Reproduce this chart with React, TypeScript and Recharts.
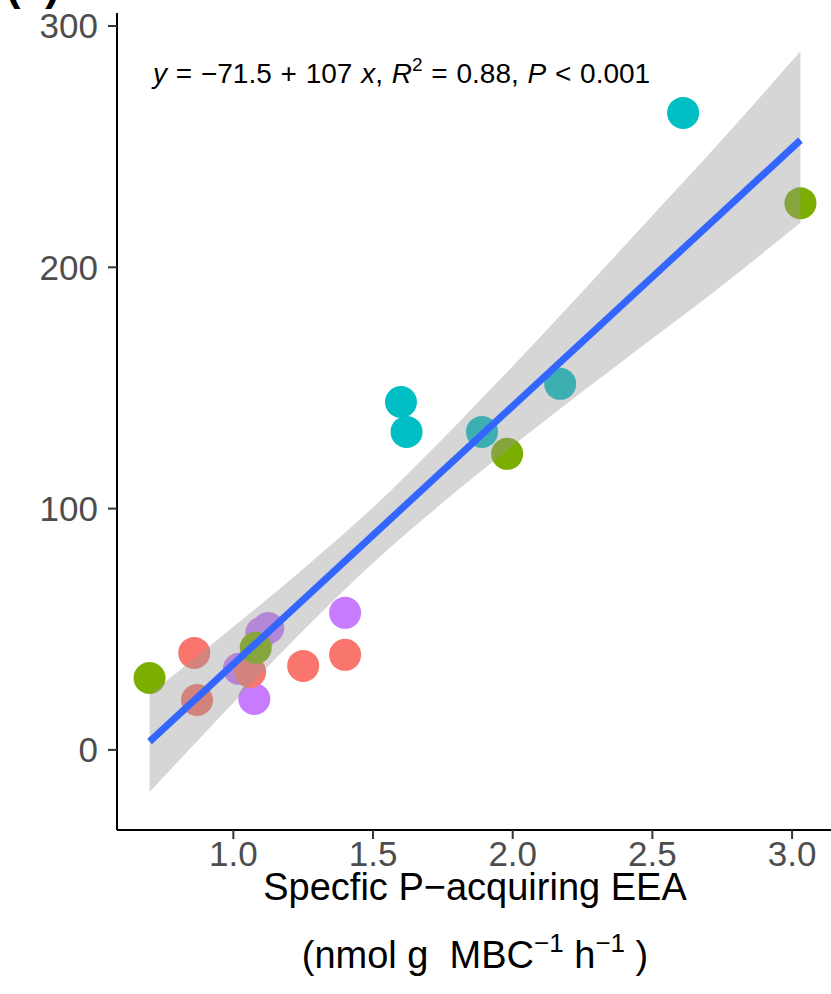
import React from 'react';
import { ComposedChart, Scatter, Area, Line, XAxis, YAxis } from 'recharts';

const FONT = '"Liberation Sans", Arial, Helvetica, sans-serif';

// site groups (ggplot default hues)
const redX = [0.86, 0.87, 1.06, 1.25, 1.4];
const redY = [40.2, 20.7, 32.3, 34.8, 39.4];
const greenX = [0.7, 1.08, 1.98, 3.03];
const greenY = [29.8, 42.3, 122.7, 226.6];
const cyanX = [2.61, 1.6, 1.62, 1.89, 2.17];
const cyanY = [264, 144.2, 131.8, 131.8, 151.7];
const purpleX = [1.1, 1.125, 1.02, 1.075, 1.4];
const purpleY = [48.5, 50.5, 33.6, 21.1, 56.8];

// linear fit, as given in the equation label
const INTERCEPT = -71.5;
const SLOPE = 107;
const fitX = [0.7, 3.03];

// 95% confidence ribbon
const bandX = [0.7, 1.0, 1.25, 1.5, 1.75, 2.0, 2.25, 2.5, 2.75, 3.03];
const bandLow = [-17.5, 19.5, 49.5, 77.5, 102.5, 126, 148.5, 170.5, 192.5, 218.5];
const bandHigh = [23, 51, 75, 100.5, 129, 159, 190, 221.5, 253, 289.5];

const xTicks = [1.0, 1.5, 2.0, 2.5, 3.0];
const yTicks = [0, 100, 200, 300];

const toPoints = (xs: number[], ys: number[]) => xs.map((x, i) => ({ x, y: ys[i] }));

const dot = (color: string) => (props: any) =>
  <circle cx={props.cx} cy={props.cy} r={16} fill={color} />;

const fitData = fitX.map((x) => ({ x, fit: INTERCEPT + SLOPE * x }));
const bandData = bandX.map((x, i) => ({ x, band: [bandLow[i], bandHigh[i]] }));

export default function App() {
  return (
    <div style={{ position: 'absolute', left: 0, top: 0, width: 831, height: 994, overflow: 'hidden', background: '#fff' }}>
      <ComposedChart width={850} height={994} margin={{ top: 13, right: 17, bottom: 0, left: 0 }}>
        <XAxis
          type="number"
          dataKey="x"
          domain={[0.5835, 3.1465]}
          ticks={xTicks}
          allowDataOverflow
          tickFormatter={(v: number) => v.toFixed(1)}
          height={164}
          tickSize={9}
          tickMargin={2}
          axisLine={{ stroke: '#000', strokeWidth: 2 }}
          tickLine={{ stroke: '#333', strokeWidth: 2 }}
          tick={{ fill: '#4D4D4D', fontSize: 35, fontFamily: FONT }}
        />
        <YAxis
          type="number"
          domain={[-33.2, 305.4]}
          ticks={yTicks}
          allowDataOverflow
          width={117}
          tickSize={9}
          tickMargin={10}
          axisLine={{ stroke: '#000', strokeWidth: 2 }}
          tickLine={{ stroke: '#333', strokeWidth: 2 }}
          tick={{ fill: '#4D4D4D', fontSize: 35, fontFamily: FONT }}
        />
        <Scatter data={toPoints(purpleX, purpleY)} dataKey="y" shape={dot('#C77CFF')} isAnimationActive={false} zIndex={10} />
        <Scatter data={toPoints(cyanX, cyanY)} dataKey="y" shape={dot('#00BFC4')} isAnimationActive={false} zIndex={11} />
        <Scatter data={toPoints(redX, redY)} dataKey="y" shape={dot('#F8766D')} isAnimationActive={false} zIndex={12} />
        <Scatter data={toPoints(greenX, greenY)} dataKey="y" shape={dot('#7CAE00')} isAnimationActive={false} zIndex={13} />
        <Area
          data={bandData}
          dataKey="band"
          type="monotone"
          stroke="none"
          fill="#999999"
          fillOpacity={0.4}
          isAnimationActive={false}
          zIndex={100}
        />
        <Line
          data={fitData}
          dataKey="fit"
          type="linear"
          stroke="#3366FF"
          strokeWidth={7}
          strokeLinecap="butt"
          dot={false}
          activeDot={false}
          isAnimationActive={false}
          zIndex={200}
        />
      </ComposedChart>
      <svg width={831} height={994} style={{ position: 'absolute', left: 0, top: 0, pointerEvents: 'none' }}>
        <text x={6} y={0} fontFamily={FONT} fontWeight="bold" fontSize={44} fill="#000">(a)</text>
        <text x={153} y={83} fontFamily={FONT} fontSize={28} fill="#000" style={{ wordSpacing: '1px' }} xmlSpace="preserve">
          <tspan fontStyle="italic">y</tspan> = −71.5 + 107 <tspan fontStyle="italic">x</tspan>, <tspan fontStyle="italic">R</tspan>
          <tspan fontSize={19} dy={-12}>2</tspan>
          <tspan dy={12}> = 0.88, </tspan><tspan fontStyle="italic">P</tspan> &lt; 0.001
        </text>
        <text x={475} y={900} fontFamily={FONT} fontSize={38} fill="#000" textAnchor="middle">
          Specfic P−acquiring EEA
        </text>
        <text x={475} y={968} fontFamily={FONT} fontSize={38} fill="#000" textAnchor="middle" xmlSpace="preserve">
          <tspan>(nmol g  MBC</tspan>
          <tspan fontSize={26} dy={-16}>−1</tspan>
          <tspan dy={16}> h</tspan>
          <tspan fontSize={26} dy={-16}>−1</tspan>
          <tspan dy={16}> )</tspan>
        </text>
      </svg>
    </div>
  );
}
